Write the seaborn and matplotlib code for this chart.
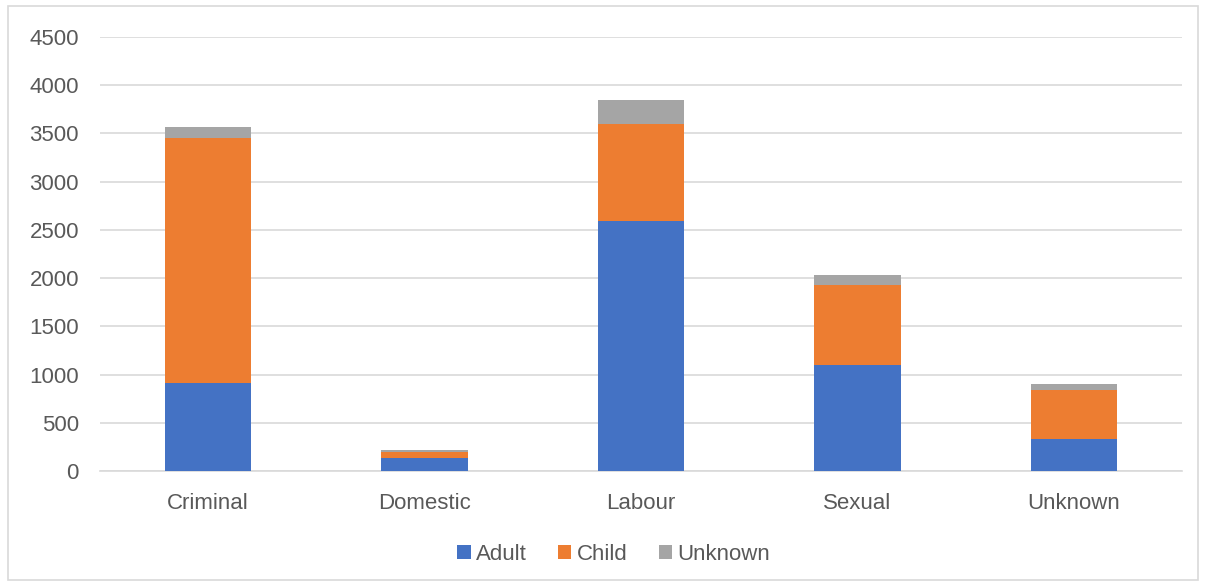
import matplotlib
matplotlib.use("Agg")
import matplotlib.pyplot as plt
from matplotlib.patches import Rectangle, Patch
import seaborn as sns
import pandas as pd
import numpy as np

categories = ["Criminal", "Domestic", "Labour", "Sexual", "Unknown"]
adult = [910, 130, 2590, 1100, 330]
child = [2540, 70, 1010, 825, 510]
unknown = [115, 20, 250, 110, 65]

series_names = ["Adult", "Child", "Unknown"]
colors = ["#4472C4", "#ED7D31", "#A5A5A5"]

sns.set_theme(style="white")
plt.rcParams["font.family"] = ["Liberation Sans", "DejaVu Sans"]

fig = plt.figure(figsize=(12.06, 5.86), dpi=100)
ax = fig.add_axes([0.0827, 0.1962, 0.8976, 0.7406])

# cumulative tops for the stacked segments
a = np.array(adult)
ac = a + np.array(child)
total = ac + np.array(unknown)
df = pd.DataFrame({"cat": categories, "Adult": a, "AdultChild": ac, "Total": total})

for col, color in [("Total", colors[2]), ("AdultChild", colors[1]), ("Adult", colors[0])]:
    sns.barplot(data=df, x="cat", y=col, color=color, width=0.4, linewidth=0,
                saturation=1, ax=ax, zorder=3)

ax.set_ylim(0, 4500)
ax.set_yticks(np.arange(0, 4501, 500))
ax.set_xlim(-0.5, len(categories) - 0.5)
ax.yaxis.grid(True, color="#D9D9D9", linewidth=1.2, zorder=0)
ax.xaxis.grid(False)
for side in ["left", "right", "top"]:
    ax.spines[side].set_visible(False)
ax.spines["bottom"].set_color("#D9D9D9")
ax.spines["bottom"].set_linewidth(1.2)
ax.set_xlabel("")
ax.set_ylabel("")
ax.tick_params(axis="y", length=0, pad=15, labelsize=16, labelcolor="#595959")
ax.tick_params(axis="x", length=0, pad=16, labelsize=16, labelcolor="#595959")

handles = [Patch(facecolor=c, edgecolor="none") for c in colors]
fig.legend(handles, series_names, loc="center", bbox_to_anchor=(0.509, 0.0545),
           ncol=3, frameon=False, fontsize=16, labelcolor="#595959",
           handlelength=0.6, handleheight=0.6, handletextpad=0.25, columnspacing=1.4)

fig.patches.append(Rectangle((0.0066, 0.0102), 0.9868, 0.9796, transform=fig.transFigure,
                             fill=False, edgecolor="#D9D9D9", linewidth=1.2))

fig.savefig("out.png", dpi=100, facecolor="white")
